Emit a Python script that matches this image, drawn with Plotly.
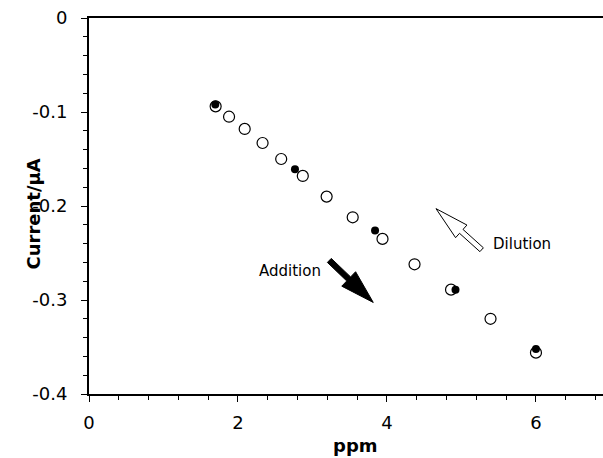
import plotly.graph_objects as go
import numpy as np

# Data
dil_x = [1.70, 1.88, 2.09, 2.33, 2.58, 2.87, 3.19, 3.54, 3.94, 4.37, 4.86, 5.39, 6.00]
dil_y = [-0.094, -0.105, -0.118, -0.133, -0.150, -0.168, -0.190, -0.212, -0.235, -0.262, -0.289, -0.320, -0.356]
add_x = [1.695, 2.765, 3.84, 4.92, 6.00]
add_y = [-0.092, -0.161, -0.226, -0.289, -0.352]

x_range = [0, 6.9]
y_range = [-0.4, 0]
x_ticks = [0, 2, 4, 6]
y_ticks = [0, -0.1, -0.2, -0.3, -0.4]

W, H = 603, 458
ML, MR, MT, MB = 89, 0, 18, 64
pw, ph = W - ML - MR, H - MT - MB
sx = pw / (x_range[1] - x_range[0])
sy = ph / (y_range[1] - y_range[0])

FONT = "DejaVu Sans"


def arrow_path(tail, tip, head_len, head_half, shaft_half):
    # compute in screen pixels, then back to data units
    S = np.array([tail[0] * sx, -tail[1] * sy])
    T = np.array([tip[0] * sx, -tip[1] * sy])
    d = T - S
    u = d / np.linalg.norm(d)
    n = np.array([-u[1], u[0]])
    B = T - u * head_len
    pts = [S + n * shaft_half, B + n * shaft_half, B + n * head_half, T,
           B - n * head_half, B - n * shaft_half, S - n * shaft_half]
    pts = [(p[0] / sx, -p[1] / sy) for p in pts]
    return "M " + " L ".join(f"{x:.5f},{y:.5f}" for x, y in pts) + " Z"


fig = go.Figure()
fig.add_trace(go.Scatter(x=add_x, y=add_y, mode="markers",
                         marker=dict(size=8, color="black", line=dict(width=0)),
                         showlegend=False))
fig.add_trace(go.Scatter(x=dil_x, y=dil_y, mode="markers",
                         marker=dict(size=11, color="black", symbol="circle-open",
                                     line=dict(width=1.2, color="black")),
                         showlegend=False))

# Addition arrow (filled) and Dilution arrow (hollow)
fig.add_shape(type="path", xref="x", yref="y",
              path=arrow_path((3.226, -0.2579), (3.816, -0.3026), 34, 10, 2.8),
              fillcolor="black", line=dict(color="black", width=1))
fig.add_shape(type="path", xref="x", yref="y",
              path=arrow_path((5.271, -0.2465), (4.658, -0.2028), 34, 8.5, 2.6),
              fillcolor="white", line=dict(color="black", width=1))

fig.add_annotation(x=2.694, y=-0.2688, xref="x", yref="y", text="Addition",
                   showarrow=False, font=dict(family=FONT, size=15, color="black"))
fig.add_annotation(x=5.81, y=-0.2404, xref="x", yref="y", text="Dilution",
                   showarrow=False, font=dict(family=FONT, size=15, color="black"))

fig.add_annotation(x=(21 - ML) / pw, y=(ph + MT - 214) / ph, xref="paper", yref="paper",
                   text="<b>Current/μA</b>", textangle=-90, showarrow=False,
                   font=dict(family=FONT, size=18, color="black"))
fig.add_annotation(x=(355 - ML) / pw, y=-(445 - ph - MT) / ph, xref="paper", yref="paper",
                   text="<b>ppm</b>", showarrow=False, yanchor="middle",
                   font=dict(family=FONT, size=18, color="black"))

fig.update_layout(
    width=W, height=H,
    margin=dict(l=ML, r=MR, t=MT, b=MB),
    paper_bgcolor="white", plot_bgcolor="white",
    font=dict(family=FONT, size=18, color="black"),
    xaxis=dict(range=x_range, tickvals=x_ticks, ticktext=[str(v) for v in x_ticks],
               showgrid=False, zeroline=False, showline=True, linewidth=2,
               linecolor="black", mirror=True, ticks="outside", ticklen=6,
               tickwidth=1.2, tickcolor="black", ticklabelstandoff=5,
               minor=dict(dtick=0.4, tick0=0, ticks="outside", ticklen=4,
                          tickwidth=1.2, tickcolor="black", showgrid=False)),
    yaxis=dict(range=y_range, tickvals=y_ticks,
               ticktext=["0", "-0.1", "-0.2", "-0.3", "-0.4"],
               showgrid=False, zeroline=False, showline=True, linewidth=2,
               linecolor="black", mirror=False, ticks="outside", ticklen=6,
               tickwidth=1.2, tickcolor="black", ticklabelstandoff=10,
               minor=dict(dtick=0.02, tick0=0, ticks="outside", ticklen=4,
                          tickwidth=1.2, tickcolor="black", showgrid=False)),
)

fig.write_html("out.html")
